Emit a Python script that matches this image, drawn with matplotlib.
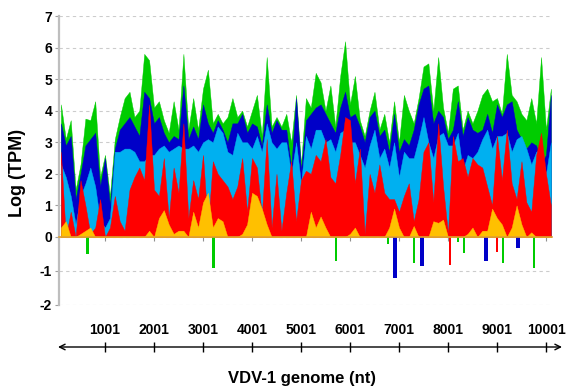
import numpy as np
import matplotlib
matplotlib.use("Agg")
import matplotlib.pyplot as plt

# ---------------- data (log TPM along the genome, sampled every 100 nt) ----------------
positions = np.arange(100, 10101, 100)

green = [
    4.2, 3.1, 3.7, 1.5, 2.3, 3.75, 3.7, 4.3, 1.9, 2.6, 1.3, 3.1, 3.8, 4.4, 4.6, 3.8, 4.0,
    5.8, 5.6, 4.1, 4.3, 3.7, 3.3, 4.3, 3.4, 5.8, 3.4, 4.4, 3.4, 4.7, 5.3, 3.6, 3.9, 3.6,
    3.8, 4.4, 3.8, 4.0, 3.5, 4.0, 4.5, 3.2, 5.7, 3.5, 3.8, 3.5, 3.9, 3.0, 4.5, 2.3, 4.4,
    4.1, 5.2, 4.9, 4.0, 4.8, 3.5, 5.1, 6.2, 4.2, 5.1, 3.7, 3.2, 4.0, 4.6, 3.4, 3.9, 3.0,
    4.3, 3.0, 4.5, 4.0, 3.6, 4.4, 5.4, 5.5, 4.0, 5.7, 4.1, 3.3, 4.7, 4.8, 3.4, 4.0, 3.6,
    4.0, 4.5, 4.7, 4.3, 4.4, 3.9, 5.8, 4.5, 4.3, 3.9, 3.7, 4.4, 3.6, 5.7, 3.4, 4.7]

dark_blue = [
    3.6, 2.9, 3.2, 1.2, 2.0, 2.9, 3.1, 3.3, 1.6, 2.5, 1.0, 2.8, 3.4, 3.6, 3.8, 3.5, 3.2,
    4.6, 4.4, 3.6, 3.8, 3.3, 3.0, 3.2, 3.1, 4.8, 3.1, 3.5, 3.1, 4.2, 3.6, 3.3, 3.7, 3.4,
    3.0, 3.6, 3.6, 3.9, 3.3, 3.6, 3.5, 2.9, 4.2, 3.3, 3.7, 3.4, 3.4, 2.2, 4.4, 2.1, 3.7,
    3.9, 4.1, 4.2, 3.9, 3.6, 3.3, 4.1, 4.6, 3.8, 3.9, 3.5, 3.0, 3.8, 4.0, 3.2, 3.4, 2.7,
    3.9, 2.7, 3.1, 2.9, 3.4, 4.2, 4.7, 4.8, 3.6, 4.0, 3.8, 3.1, 3.4, 4.3, 3.2, 3.8, 3.4,
    3.3, 3.4, 3.9, 3.3, 4.2, 3.8, 4.2, 4.3, 3.4, 3.1, 2.8, 3.0, 2.9, 2.3, 2.6, 4.5]

light_blue = [
    2.3, 1.9, 1.3, 0.4, 1.3, 1.7, 2.2, 1.6, 0.5, 0.3, 0.6, 2.7, 2.7, 2.8, 2.8, 2.7, 2.4,
    2.4, 2.6, 2.6, 2.8, 2.9, 2.7, 2.8, 2.9, 2.8, 2.8, 2.9, 2.7, 3.0, 3.1, 3.0, 3.5, 3.3,
    2.7, 2.6, 3.3, 3.0, 3.0, 2.8, 3.2, 2.7, 3.6, 3.0, 2.8, 3.0, 3.0, 2.0, 3.0, 1.7, 3.2,
    2.8, 3.4, 3.4, 3.0, 3.1, 2.7, 3.3, 3.4, 3.0, 3.0, 2.6, 2.2, 2.9, 3.4, 2.5, 2.8, 2.2,
    3.0, 1.9, 2.7, 2.5, 2.5, 3.1, 3.8, 3.0, 2.5, 3.2, 3.3, 2.9, 2.9, 3.3, 2.1, 2.6, 2.5,
    2.7, 3.1, 3.4, 2.8, 3.2, 3.2, 3.3, 2.7, 3.1, 3.2, 2.8, 2.3, 2.7, 2.8, 2.0, 3.0]

red = [
    2.7, 0.0, 0.8, 0.0, 1.8, 1.0, 0.1, 0.3, 1.2, 0.0, 0.3, 1.3, 0.5, 0.2, 1.5, 1.9, 2.2,
    1.8, 4.2, 1.5, 1.3, 2.5, 0.6, 2.2, 1.4, 3.6, 0.6, 1.8, 1.2, 2.6, 0.3, 2.4, 2.0, 1.8,
    1.6, 1.2, 1.6, 2.5, 0.8, 2.5, 2.2, 0.7, 3.1, 0.3, 2.0, 0.2, 1.4, 2.4, 0.5, 1.8, 2.1,
    2.0, 2.6, 2.4, 3.1, 1.9, 1.7, 2.6, 3.8, 3.7, 1.7, 2.8, 0.1, 2.0, 1.4, 2.3, 1.4, 1.2,
    1.2, 0.8, 1.3, 1.7, 0.5, 1.2, 2.7, 3.0, 1.1, 3.6, 1.6, 0.1, 3.2, 2.4, 2.5, 1.9, 2.5,
    2.3, 2.2, 1.6, 1.0, 3.2, 1.8, 3.4, 1.7, 1.2, 2.4, 1.1, 0.8, 2.6, 3.3, 2.0, 1.0]

orange = [
    0.3, 0.5, 0.0, 0.0, 0.1, 0.2, 0.3, 0.0, 0.0, 0.0, 0.0, 0.0, 0.0, 0.0, 0.0, 0.0, 0.0,
    0.0, 0.2, 0.0, 0.6, 0.85, 0.4, 0.1, 0.2, 0.2, 0.0, 0.8, 0.3, 1.1, 1.4, 0.3, 0.6, 0.5,
    0.0, 0.0, 0.0, 0.1, 0.4, 1.4, 1.3, 0.9, 0.4, 0.0, 0.0, 0.0, 0.0, 0.0, 0.0, 0.0, 0.0,
    0.8, 0.3, 0.65, 0.3, 0.0, 0.0, 0.0, 0.0, 0.1, 0.3, 0.0, 0.0, 0.0, 0.0, 0.0, 0.0, 0.3,
    0.9, 0.3, 0.0, 0.0, 0.35, 0.0, 0.0, 0.0, 0.5, 0.45, 0.55, 0.0, 0.0, 0.0, 0.0, 0.1, 0.3,
    0.0, 0.2, 0.2, 0.9, 0.6, 0.4, 0.0, 0.3, 1.0, 0.4, 0.0, 0.15, 0.0, 0.0, 0.0, 0.0]

# narrow negative excursions (position nt, log TPM)
green_dip_pos = [643, 3210, 5714, 6775, 7306, 8205, 8326, 9123, 9756]
green_dip_val = [-0.5, -0.9, -0.7, -0.2, -0.77, -0.15, -0.47, -0.77, -0.9]
blue_dip_pos = [6920, 7470, 8776, 9430]
blue_dip_val = [-1.2, -0.85, -0.7, -0.33]
red_dip_pos = [8042, 9000]
red_dip_val = [-0.82, -0.45]

genome_ticks = [1001, 2001, 3001, 4001, 5001, 6001, 7001, 8001, 9001, 10001]
y_ticks = [-2, -1, 0, 1, 2, 3, 4, 5, 6, 7]

# ---------------- styling ----------------
plt.rcParams['font.family'] = ['Liberation Sans', 'DejaVu Sans']
C_GREEN = '#00CC00'
C_DBLUE = '#0000C8'
C_LBLUE = '#00B0F0'
C_RED = '#FF0000'
C_ORANGE = '#FFC000'

W, H = 571, 391
fig = plt.figure(figsize=(W / 100, H / 100), dpi=100)
ax = fig.add_axes([59 / W, (H - 305) / H, (552 - 59) / W, (305 - 16) / H])

k = 34.0 / 31.57
def fwd(y):
    y = np.asarray(y, dtype=float)
    return np.where(y < 0, y * k, y)
def inv(y):
    y = np.asarray(y, dtype=float)
    return np.where(y < 0, y / k, y)
ax.set_yscale('function', functions=(fwd, inv))

x = positions
for vals, col in [(green, C_GREEN), (dark_blue, C_DBLUE), (light_blue, C_LBLUE),
                  (red, C_RED), (orange, C_ORANGE)]:
    ax.fill_between(x, 0, vals, color=col, lw=0.3, edgecolor=col, zorder=2)

ax.bar(green_dip_pos, green_dip_val, width=55, color=C_GREEN, lw=0, zorder=2)
ax.bar(blue_dip_pos, blue_dip_val, width=85, color=C_DBLUE, lw=0, zorder=2)
ax.bar(red_dip_pos, red_dip_val, width=45, color=C_RED, lw=0, zorder=2)

ax.set_xlim(61, 10123)
ax.set_ylim(-2, 7)
ax.set_yticks(y_ticks)
ax.set_yticklabels([str(v) for v in y_ticks], fontsize=10, fontweight='bold')
ax.yaxis.grid(True, linestyle=(0, (3, 3)), color='#CCCCCC', lw=0.8)
ax.set_axisbelow(True)

ax.set_xticks(genome_ticks)
ax.set_xticklabels([])
ax.tick_params(axis='x', direction='out', length=3, color='#909090', width=0.8)
ax.tick_params(axis='y', direction='out', length=3, color='#A0A0A0', width=0.8, pad=2)
for s in ['top', 'right']:
    ax.spines[s].set_visible(False)
ax.spines['left'].set_color('#BEBEBE')
ax.spines['left'].set_linewidth(1.6)
ax.spines['bottom'].set_position(('data', 0))
ax.spines['bottom'].set_color('#E0A030')
ax.spines['bottom'].set_linewidth(1.2)
ax.spines['bottom'].set_zorder(3)

# genome arrow axis
ax2 = fig.add_axes([58 / W, (H - 348) / H, (562 - 58) / W, 1 / H])
ax2.set_xlim(41, 10327)
ax2.set_ylim(0, 1)
for s in ax2.spines.values():
    s.set_visible(False)
ax2.set_yticks([])
ax2.set_xticks(genome_ticks)
ax2.set_xticklabels([str(t) for t in genome_ticks], fontsize=10, fontweight='bold')
ax2.tick_params(axis='x', top=True, labeltop=True, bottom=False, labelbottom=False,
                direction='inout', length=7, width=1, color='black', pad=4)
ax2.patch.set_visible(False)
ax2.annotate('', xy=(1, 1), xytext=(0, 1), xycoords='axes fraction',
             arrowprops=dict(arrowstyle='<->', color='black', lw=1,
                             shrinkA=0, shrinkB=0, mutation_scale=10))

fig.text(301.5 / W, 1 - 378 / H, 'VDV-1 genome (nt)', ha='center', va='center',
         fontsize=12, fontweight='bold')
fig.text(18 / W, 1 - 173 / H, 'Log (TPM)', ha='center', va='center', rotation=90,
         fontsize=13, fontweight='bold')

fig.savefig('out.png', dpi=100)
